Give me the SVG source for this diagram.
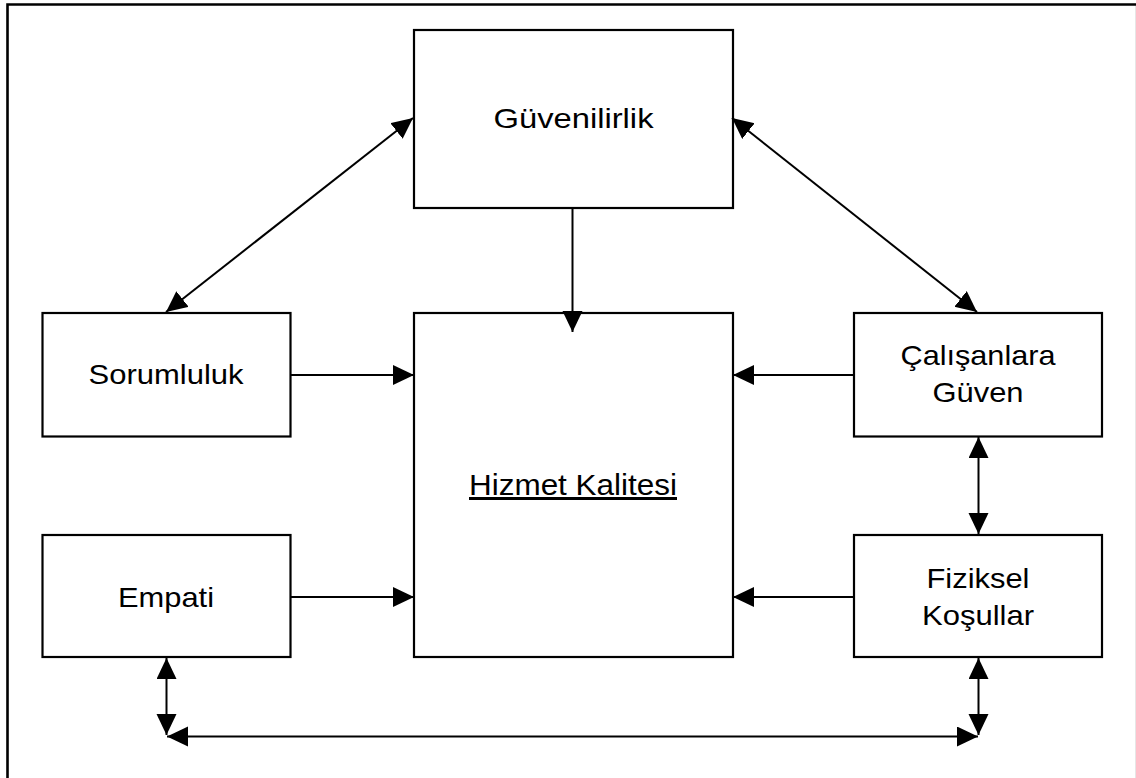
<svg xmlns="http://www.w3.org/2000/svg" width="1136" height="778" viewBox="0 0 1136 778">
  <style>
    .box { fill: #ffffff; stroke: #000000; stroke-width: 2.2; }
    .lbl { font-family: "Liberation Sans", Arial, sans-serif; font-size: 28.5px; fill: #000000; text-anchor: middle; }
    .main { font-size: 30px; text-decoration: underline; }
    .con { fill: none; stroke: #000000; stroke-width: 2; }
  </style>
  <defs>
    <marker id="head" markerUnits="userSpaceOnUse" markerWidth="24" markerHeight="22" refX="21" refY="10" orient="auto-start-reverse">
      <path d="M0,0 L21,10 L0,20 Z" fill="#000000"/>
    </marker>
  </defs>

  <rect x="0" y="0" width="1136" height="778" fill="#ffffff"/>
  <!-- page frame -->
  <path d="M7.5,778 V4.5 H1136" fill="none" stroke="#000000" stroke-width="2.6"/>
  <line x1="1135.5" y1="6" x2="1135.5" y2="778" stroke="#e6e6e6" stroke-width="1"/>

  <g id="node-guvenilirlik">
    <rect class="box" x="414" y="30" width="319" height="178"/>
    <text class="lbl" x="573.5" y="128" textLength="160" lengthAdjust="spacingAndGlyphs">Güvenilirlik</text>
  </g>
  <g id="node-sorumluluk">
    <rect class="box" x="42.5" y="313" width="248" height="123.5"/>
    <text class="lbl" x="166" y="384" textLength="155" lengthAdjust="spacingAndGlyphs">Sorumluluk</text>
  </g>
  <g id="node-hizmet-kalitesi">
    <rect class="box" x="414" y="313" width="319" height="344"/>
    <text class="lbl main" x="573" y="495" textLength="208" lengthAdjust="spacingAndGlyphs">Hizmet Kalitesi</text>
  </g>
  <g id="node-calisanlara-guven">
    <rect class="box" x="854" y="313" width="248" height="123.5"/>
    <text class="lbl" x="978" y="365" textLength="155" lengthAdjust="spacingAndGlyphs">Çalışanlara</text>
    <text class="lbl" x="978" y="402" textLength="91" lengthAdjust="spacingAndGlyphs">Güven</text>
  </g>
  <g id="node-empati">
    <rect class="box" x="42.5" y="535" width="248" height="122"/>
    <text class="lbl" x="166" y="607" textLength="96" lengthAdjust="spacingAndGlyphs">Empati</text>
  </g>
  <g id="node-fiziksel-kosullar">
    <rect class="box" x="854" y="535" width="248" height="122"/>
    <text class="lbl" x="978" y="588" textLength="103" lengthAdjust="spacingAndGlyphs">Fiziksel</text>
    <text class="lbl" x="978" y="625" textLength="112" lengthAdjust="spacingAndGlyphs">Koşullar</text>
  </g>

  <g id="connectors">
    <!-- Güvenilirlik links -->
    <line class="con" x1="166" y1="312" x2="413" y2="118" marker-start="url(#head)" marker-end="url(#head)"/>
    <line class="con" x1="732" y1="118" x2="977" y2="312" marker-start="url(#head)" marker-end="url(#head)"/>
    <line class="con" x1="572.5" y1="208" x2="572.5" y2="332" marker-end="url(#head)"/>
    <!-- inputs to Hizmet Kalitesi -->
    <line class="con" x1="290.5" y1="375" x2="414" y2="375" marker-end="url(#head)"/>
    <line class="con" x1="290.5" y1="597" x2="414" y2="597" marker-end="url(#head)"/>
    <line class="con" x1="854" y1="375" x2="733" y2="375" marker-end="url(#head)"/>
    <line class="con" x1="854" y1="597" x2="733" y2="597" marker-end="url(#head)"/>
    <!-- right column -->
    <line class="con" x1="978.5" y1="437" x2="978.5" y2="534" marker-start="url(#head)" marker-end="url(#head)"/>
    <!-- bottom loop -->
    <line class="con" x1="166.5" y1="658" x2="166.5" y2="735" marker-start="url(#head)" marker-end="url(#head)"/>
    <line class="con" x1="978.5" y1="658" x2="978.5" y2="735" marker-start="url(#head)" marker-end="url(#head)"/>
    <line class="con" x1="167" y1="736.5" x2="978" y2="736.5" marker-start="url(#head)" marker-end="url(#head)"/>
  </g>
</svg>
